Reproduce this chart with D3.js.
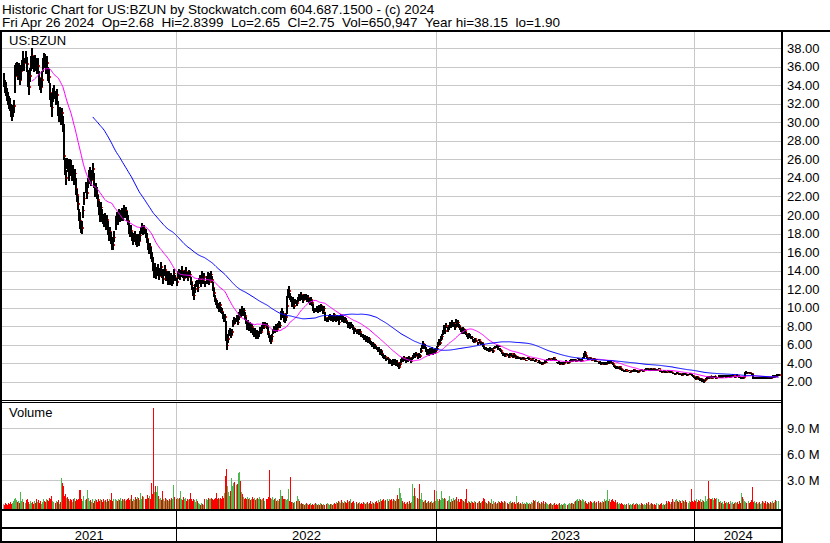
<!DOCTYPE html>
<html><head><meta charset="utf-8">
<script src="https://cdn.jsdelivr.net/npm/d3@7"></script>
<style>html,body{margin:0;padding:0;background:#fff}svg{display:block}text{font-family:"Liberation Sans",Arial,sans-serif;fill:#000}</style>
</head><body><svg id="c" width="830" height="543"></svg>
<script>
const titleLine1 = "Historic Chart for US:BZUN by Stockwatch.com 604.687.1500 - (c) 2024";
const titleLine2 = "Fri Apr 26 2024  Op=2.68  Hi=2.8399  Lo=2.65  Cl=2.75  Vol=650,947  Year hi=38.15  lo=1.90";
const symbol = "US:BZUN";
const yearLabels = ["2021","2022","2023","2024"];
const yearStartIndex = [0,168,419,669];
const priceTicks = [2,4,6,8,10,12,14,16,18,20,22,24,26,28,30,32,34,36,38];
const volumeTicks = [3,6,9];
const maPeriods = [28,87];

const close = [
34.5,34.0,33.5,33.2,32.6,32.2,31.8,31.5,30.8,31.2,
31.8,35.0,35.6,36.0,35.3,35.8,34.6,35.5,36.2,36.8,
36.4,37.0,36.3,34.5,33.8,35.0,36.5,37.2,36.6,36.0,
36.8,36.2,35.8,36.1,34.8,34.2,33.8,34.6,36.3,36.9,
36.5,36.0,36.4,35.4,34.9,33.2,32.4,31.6,32.8,33.3,
32.6,33.0,31.3,30.8,31.2,30.6,31.0,29.8,26.4,25.2,
24.0,25.6,25.3,24.6,25.5,25.0,24.4,24.8,24.0,24.5,
22.8,22.2,21.2,20.0,19.4,18.8,18.6,20.5,21.8,23.0,
22.4,23.5,24.2,24.6,23.8,24.4,25.0,23.4,22.6,23.0,
22.2,21.6,20.6,20.0,20.8,19.9,19.6,19.2,19.8,19.0,
19.5,18.4,17.9,18.2,17.5,17.0,16.8,17.6,19.0,19.8,
19.4,20.2,19.6,20.0,20.4,19.8,20.6,20.2,20.5,19.9,
19.4,18.6,18.0,18.3,17.8,17.2,17.6,17.9,17.4,17.0,
17.5,17.2,17.8,18.3,18.6,18.2,18.5,18.0,17.4,16.8,
16.3,16.6,15.8,15.4,14.6,13.8,14.3,13.5,14.0,14.2,
13.4,13.9,14.4,13.6,13.1,13.8,14.1,13.3,13.6,13.0,
13.5,12.9,13.4,12.6,13.1,13.7,13.2,12.8,13.5,13.9,
13.4,13.8,14.0,13.6,13.2,13.7,13.9,13.5,13.3,13.8,
13.6,12.8,12.4,11.6,11.3,12.0,12.5,12.7,12.2,12.9,
13.1,12.7,13.4,12.9,13.3,12.6,13.0,13.5,12.8,13.2,
13.6,13.0,12.2,11.6,11.0,10.6,10.4,10.2,9.9,10.3,
9.8,9.6,9.2,8.8,9.0,7.0,5.9,6.6,7.2,7.5,
7.0,7.4,8.2,8.7,8.5,8.9,8.4,9.0,9.6,9.3,
9.9,9.4,9.7,9.1,8.5,8.0,8.3,7.8,8.1,7.6,
7.9,7.4,7.1,7.5,7.0,7.3,6.9,7.2,7.6,7.4,
7.8,8.2,7.9,8.3,8.0,7.4,7.0,6.6,6.4,6.9,
7.4,7.8,7.5,7.9,7.7,8.0,8.4,8.1,9.0,9.6,
9.3,8.8,8.6,9.0,10.2,11.4,11.8,11.2,10.9,10.4,
10.8,10.2,10.6,10.5,10.9,11.2,11.0,11.4,11.1,10.8,
11.3,11.0,11.2,10.9,11.1,10.8,10.6,10.9,10.5,9.9,
9.6,9.8,9.7,10.0,9.7,10.1,9.8,10.2,9.9,9.6,
9.9,8.9,8.6,8.8,8.9,9.1,8.8,9.0,8.7,9.2,
8.9,8.6,9.0,8.8,8.4,8.9,9.1,8.7,8.9,8.5,
8.8,8.6,8.4,8.1,8.3,7.9,8.2,8.0,7.8,7.5,
7.6,7.3,7.5,7.2,7.4,7.1,7.0,6.9,6.7,6.8,
6.5,6.7,6.4,6.6,6.3,6.2,6.0,6.1,5.8,5.9,
5.7,5.6,5.4,5.5,5.2,5.3,5.0,4.8,4.6,4.7,
4.4,4.5,4.2,4.3,4.1,3.9,4.2,4.0,4.3,3.9,
4.1,3.8,3.6,3.9,4.2,4.5,4.3,4.6,4.4,4.2,
4.5,4.3,4.6,4.4,4.2,4.5,4.7,4.9,4.8,5.0,
4.7,4.9,4.8,5.3,5.8,6.1,5.7,5.9,5.4,5.1,
5.3,5.0,5.4,5.2,5.5,5.1,5.3,5.2,5.4,5.6,
6.0,6.4,6.2,6.6,6.9,7.3,7.8,7.5,8.0,7.7,
7.9,8.2,8.0,8.4,8.1,8.3,7.9,8.5,8.2,8.4,
8.0,7.8,7.6,7.4,7.7,7.3,7.5,7.2,7.0,6.8,
7.1,6.9,6.7,6.8,6.5,6.3,6.6,6.4,6.2,6.5,
6.3,6.1,6.2,6.0,5.7,5.5,5.6,5.4,5.5,5.3,
5.6,5.4,5.5,5.3,5.6,5.8,5.7,5.9,5.6,5.8,
5.5,5.3,5.1,4.9,5.0,4.8,5.0,4.9,4.7,4.9,
5.0,4.8,4.7,4.9,4.8,4.6,4.7,4.6,4.5,4.6,
4.4,4.5,4.6,4.4,4.5,4.3,4.5,4.6,4.4,4.5,
4.3,4.4,4.5,4.3,4.2,4.3,4.1,4.2,4.0,4.1,
3.9,4.1,4.0,4.2,4.1,4.3,4.4,4.5,4.4,4.3,
4.5,4.4,4.6,4.4,4.3,4.1,4.0,4.1,3.9,4.0,
4.1,3.9,4.0,4.1,4.2,4.0,4.1,4.2,4.3,4.2,
4.4,4.3,4.4,4.2,4.3,4.5,4.3,4.4,4.2,4.3,
4.5,4.9,5.1,4.8,4.6,4.5,4.4,4.6,4.5,4.3,
4.4,4.5,4.3,4.4,4.2,4.0,4.1,3.9,4.0,4.1,
3.9,4.0,3.9,4.0,4.1,4.0,4.2,4.1,4.0,3.9,
3.7,3.6,3.5,3.6,3.4,3.5,3.6,3.4,3.3,3.2,
3.1,3.2,3.3,3.1,3.2,3.0,3.1,3.2,3.1,3.3,
3.2,3.1,3.2,3.0,3.1,3.2,3.3,3.2,3.1,3.2,
3.3,3.4,3.3,3.4,3.2,3.3,3.4,3.3,3.2,3.4,
3.3,3.2,3.3,3.4,3.2,3.1,3.0,3.1,3.2,3.0,
3.1,3.0,3.2,3.1,3.0,3.1,3.0,2.9,2.9,2.8,
2.9,3.0,2.9,2.8,2.9,2.8,2.7,2.9,2.8,2.9,
2.8,2.7,2.8,2.9,2.8,2.7,2.6,2.5,2.4,2.3,
2.5,2.4,2.3,2.2,2.3,2.1,2.2,2.05,2.15,2.3,
2.4,2.5,2.4,2.6,2.5,2.4,2.5,2.6,2.5,2.4,
2.5,2.6,2.5,2.6,2.5,2.6,2.7,2.6,2.5,2.6,
2.7,2.6,2.5,2.6,2.6,2.7,2.6,2.5,2.6,2.7,
2.6,2.5,2.45,2.4,2.5,2.4,2.5,2.9,3.0,2.9,
3.0,2.95,2.9,2.85,2.4,2.35,2.4,2.45,2.35,2.4,
2.45,2.35,2.4,2.4,2.35,2.45,2.4,2.35,2.45,2.4,
2.35,2.45,2.4,2.45,2.6,2.55,2.65,2.6,2.68,2.75];

const highWick = [
0.8,0.6,0.9,0.5,0.7,0.6,0.8,0.5,0.9,0.7,
0.6,1.2,0.8,0.5,0.9,0.6,1.0,0.7,0.5,0.9,
0.6,0.7,0.8,1.2,0.6,0.9,0.7,0.8,0.6,0.9,
0.5,0.8,0.6,0.9,0.7,0.6,0.8,1.0,0.7,0.6,
0.9,0.7,0.8,0.6,0.9,1.1,0.8,0.6,0.9,0.7,
0.8,0.6,1.0,0.7,0.5,0.8,0.6,0.9,3.4,1.0,
0.9,0.6,0.8,0.7,0.5,0.9,0.8,0.6,0.7,0.5,
1.2,0.6,0.8,0.7,0.9,0.6,0.8,0.5,0.7,0.6,
0.9,0.5,0.7,0.6,0.8,0.5,0.6,1.1,0.7,0.5,
0.8,0.6,0.9,0.5,0.6,0.7,0.5,0.6,0.4,0.7,
0.5,0.9,0.6,0.5,0.7,0.6,0.5,0.7,0.9,0.5,
0.7,0.4,0.6,0.5,0.4,0.7,0.5,0.6,0.4,0.5,
0.6,0.8,0.5,0.6,0.4,0.7,0.5,0.4,0.6,0.5,
0.4,0.6,0.5,0.4,0.5,0.6,0.4,0.5,0.7,0.6,
0.5,0.4,0.7,0.6,0.9,0.7,0.5,0.6,0.4,0.5,
0.6,0.4,0.5,0.6,0.5,0.4,0.5,0.6,0.4,0.5,
0.4,0.5,0.3,0.6,0.4,0.5,0.3,0.4,0.5,0.3,
0.4,0.3,0.5,0.4,0.3,0.4,0.5,0.3,0.4,0.3,
0.4,0.5,0.4,0.6,0.3,0.5,0.4,0.3,0.4,0.3,
0.4,0.3,0.5,0.3,0.4,0.3,0.4,0.3,0.4,0.5,
0.3,0.4,0.6,0.5,0.4,0.3,0.4,0.3,0.4,0.3,
0.3,0.4,0.3,0.4,0.3,1.6,0.9,0.6,0.4,0.3,
0.4,0.3,0.5,0.3,0.4,0.3,0.4,0.5,0.3,0.4,
0.3,0.4,0.3,0.4,0.5,0.3,0.4,0.3,0.3,0.4,
0.3,0.4,0.3,0.3,0.4,0.3,0.4,0.3,0.3,0.2,
0.3,0.3,0.4,0.2,0.3,0.5,0.3,0.4,0.3,0.2,
0.3,0.2,0.3,0.3,0.2,0.3,0.2,0.3,0.6,0.4,
0.3,0.4,0.3,0.4,1.0,0.6,0.5,0.4,0.3,0.4,
0.3,0.4,0.3,0.3,0.2,0.3,0.2,0.3,0.3,0.4,
0.2,0.3,0.3,0.2,0.3,0.2,0.3,0.2,0.3,0.5,
0.3,0.2,0.3,0.2,0.3,0.2,0.3,0.2,0.3,0.2,
0.3,0.6,0.3,0.2,0.3,0.2,0.3,0.2,0.3,0.2,
0.2,0.3,0.2,0.3,0.3,0.2,0.2,0.3,0.2,0.3,
0.2,0.3,0.2,0.3,0.2,0.3,0.2,0.2,0.3,0.2,
0.2,0.3,0.2,0.2,0.3,0.2,0.2,0.3,0.2,0.2,
0.2,0.2,0.3,0.2,0.2,0.2,0.3,0.2,0.2,0.2,
0.2,0.2,0.3,0.2,0.2,0.2,0.3,0.2,0.2,0.2,
0.2,0.2,0.2,0.2,0.2,0.3,0.2,0.2,0.2,0.3,
0.2,0.2,0.3,0.2,0.3,0.2,0.2,0.2,0.2,0.3,
0.2,0.2,0.2,0.2,0.3,0.2,0.2,0.2,0.2,0.2,
0.3,0.2,0.2,0.3,0.2,0.3,0.2,0.2,0.3,0.2,
0.2,0.2,0.2,0.2,0.2,0.2,0.2,0.2,0.2,0.3,
0.3,0.25,0.2,0.3,0.25,0.3,0.3,0.25,0.35,0.2,
0.25,0.3,0.2,0.3,0.25,0.2,0.3,0.25,0.2,0.3,
0.2,0.25,0.2,0.15,0.2,0.25,0.15,0.2,0.15,0.2,
0.15,0.2,0.15,0.1,0.15,0.2,0.1,0.15,0.1,0.15,
0.1,0.15,0.1,0.15,0.2,0.1,0.15,0.1,0.1,0.15,
0.1,0.15,0.1,0.1,0.15,0.1,0.15,0.1,0.1,0.15,
0.1,0.1,0.15,0.1,0.1,0.15,0.1,0.1,0.1,0.15,
0.1,0.1,0.1,0.15,0.1,0.1,0.1,0.1,0.1,0.1,
0.1,0.08,0.1,0.12,0.1,0.08,0.1,0.1,0.12,0.1,
0.08,0.1,0.1,0.08,0.1,0.12,0.08,0.1,0.1,0.08,
0.1,0.08,0.1,0.1,0.12,0.1,0.08,0.1,0.1,0.08,
0.1,0.1,0.08,0.1,0.12,0.08,0.1,0.1,0.08,0.1,
0.08,0.1,0.1,0.08,0.1,0.1,0.08,0.1,0.12,0.1,
0.1,0.08,0.1,0.1,0.08,0.1,0.1,0.08,0.1,0.1,
0.15,0.2,0.2,0.15,0.1,0.1,0.08,0.1,0.1,0.08,
0.1,0.08,0.1,0.1,0.08,0.1,0.1,0.08,0.1,0.08,
0.1,0.08,0.1,0.08,0.1,0.1,0.08,0.1,0.08,0.1,
0.1,0.08,0.1,0.08,0.1,0.08,0.08,0.1,0.08,0.08,
0.08,0.06,0.08,0.06,0.08,0.06,0.08,0.06,0.08,0.06,
0.06,0.08,0.06,0.08,0.06,0.08,0.06,0.08,0.06,0.08,
0.08,0.06,0.08,0.06,0.08,0.06,0.08,0.06,0.08,0.06,
0.06,0.08,0.06,0.08,0.06,0.08,0.06,0.08,0.06,0.08,
0.08,0.06,0.08,0.06,0.08,0.06,0.08,0.06,0.06,0.08,
0.06,0.08,0.06,0.06,0.08,0.06,0.08,0.06,0.06,0.08,
0.06,0.08,0.06,0.08,0.06,0.08,0.1,0.1,0.08,0.1,
0.08,0.1,0.08,0.1,0.08,0.1,0.08,0.1,0.08,0.1,
0.08,0.1,0.08,0.06,0.08,0.06,0.08,0.06,0.08,0.06,
0.06,0.08,0.06,0.08,0.06,0.08,0.06,0.08,0.06,0.08,
0.06,0.08,0.06,0.08,0.06,0.08,0.06,0.08,0.06,0.08,
0.06,0.08,0.06,0.08,0.06,0.08,0.06,0.15,0.12,0.1,
0.08,0.1,0.08,0.06,0.4,0.08,0.06,0.08,0.06,0.08,
0.06,0.08,0.06,0.08,0.06,0.08,0.06,0.08,0.06,0.08,
0.06,0.08,0.06,0.08,0.08,0.06,0.08,0.1,0.15,0.09];

const lowWick = [
0.7,0.8,0.6,0.9,0.7,0.8,0.6,0.9,0.7,0.6,
0.8,1.8,0.6,0.9,0.7,0.8,0.6,0.9,0.7,0.6,
0.8,0.6,0.9,0.7,0.8,0.6,0.9,0.7,0.8,0.6,
0.9,0.7,0.6,0.8,0.9,0.7,0.6,0.8,0.9,0.7,
0.6,0.8,0.7,0.9,0.6,0.8,0.7,1.0,0.6,0.8,
0.7,0.9,0.6,0.8,0.7,0.9,0.6,0.8,0.5,0.9,
0.8,0.6,0.7,0.9,0.6,0.8,0.7,0.6,0.8,0.7,
0.6,0.8,0.7,0.6,0.9,0.7,0.6,0.8,0.7,0.6,
0.7,0.6,0.8,0.5,0.7,0.6,0.8,0.5,0.7,0.6,
0.5,0.7,0.6,0.8,0.5,0.7,0.6,0.5,0.7,0.6,
0.5,0.6,0.7,0.5,0.6,0.8,0.6,0.5,0.6,0.7,
0.5,0.6,0.4,0.6,0.5,0.4,0.6,0.5,0.4,0.6,
0.5,0.6,0.4,0.5,0.6,0.4,0.5,0.4,0.6,0.5,
0.4,0.5,0.6,0.4,0.5,0.4,0.6,0.5,0.4,0.6,
0.5,0.4,0.6,0.5,0.7,0.6,0.5,0.4,0.6,0.5,
0.4,0.5,0.6,0.4,0.5,0.4,0.6,0.4,0.5,0.6,
0.4,0.5,0.4,0.3,0.5,0.4,0.3,0.5,0.4,0.3,
0.4,0.5,0.3,0.4,0.3,0.5,0.4,0.3,0.4,0.5,
0.3,0.4,0.5,0.3,0.5,0.4,0.3,0.4,0.5,0.3,
0.4,0.5,0.3,0.4,0.3,0.4,0.5,0.3,0.4,0.3,
0.4,0.3,0.4,0.5,0.4,0.3,0.4,0.3,0.4,0.3,
0.4,0.3,0.4,0.3,0.4,0.6,0.45,0.4,0.3,0.4,
0.3,0.4,0.3,0.4,0.3,0.4,0.3,0.3,0.4,0.3,
0.4,0.3,0.3,0.4,0.3,0.4,0.3,0.3,0.4,0.3,
0.3,0.4,0.3,0.3,0.4,0.3,0.3,0.4,0.3,0.3,
0.3,0.3,0.2,0.3,0.3,0.4,0.3,0.3,0.3,0.4,
0.3,0.3,0.2,0.3,0.3,0.2,0.3,0.3,0.3,0.4,
0.4,0.3,0.3,0.4,0.9,0.4,0.3,0.4,0.3,0.3,
0.3,0.3,0.2,0.3,0.3,0.2,0.3,0.2,0.3,0.3,
0.3,0.2,0.3,0.3,0.2,0.3,0.3,0.2,0.3,0.3,
0.2,0.3,0.2,0.3,0.3,0.2,0.3,0.2,0.3,0.3,
0.3,0.3,0.2,0.3,0.2,0.3,0.2,0.3,0.2,0.3,
0.3,0.2,0.3,0.2,0.3,0.2,0.3,0.2,0.3,0.2,
0.2,0.3,0.2,0.3,0.2,0.2,0.3,0.2,0.2,0.3,
0.2,0.2,0.3,0.2,0.2,0.3,0.2,0.2,0.2,0.3,
0.2,0.2,0.2,0.3,0.2,0.2,0.2,0.2,0.3,0.2,
0.2,0.2,0.2,0.2,0.3,0.2,0.2,0.2,0.2,0.2,
0.2,0.2,0.3,0.2,0.2,0.2,0.2,0.2,0.2,0.2,
0.2,0.2,0.25,0.2,0.2,0.2,0.2,0.2,0.2,0.2,
0.2,0.2,0.2,0.2,0.2,0.2,0.2,0.2,0.2,0.2,
0.2,0.2,0.2,0.2,0.3,0.2,0.2,0.2,0.2,0.2,
0.2,0.2,0.2,0.2,0.2,0.2,0.2,0.2,0.2,0.2,
0.25,0.3,0.25,0.2,0.3,0.25,0.35,0.3,0.25,0.3,
0.3,0.2,0.25,0.3,0.2,0.25,0.3,0.2,0.25,0.3,
0.25,0.2,0.25,0.2,0.15,0.2,0.25,0.15,0.2,0.15,
0.2,0.15,0.1,0.15,0.2,0.15,0.1,0.15,0.2,0.1,
0.15,0.1,0.15,0.2,0.15,0.1,0.15,0.1,0.15,0.1,
0.15,0.1,0.1,0.15,0.1,0.15,0.1,0.1,0.15,0.1,
0.15,0.1,0.1,0.15,0.1,0.1,0.15,0.1,0.1,0.1,
0.1,0.15,0.1,0.1,0.1,0.15,0.1,0.1,0.1,0.12,
0.08,0.1,0.12,0.1,0.08,0.1,0.1,0.12,0.1,0.08,
0.1,0.12,0.08,0.1,0.1,0.08,0.1,0.12,0.1,0.1,
0.12,0.1,0.08,0.1,0.1,0.08,0.1,0.12,0.08,0.1,
0.1,0.08,0.1,0.12,0.1,0.1,0.12,0.08,0.1,0.1,
0.1,0.12,0.08,0.1,0.1,0.12,0.1,0.08,0.1,0.1,
0.08,0.1,0.1,0.12,0.1,0.08,0.1,0.1,0.12,0.1,
0.1,0.4,0.2,0.15,0.1,0.12,0.1,0.08,0.1,0.1,
0.08,0.1,0.12,0.08,0.1,0.12,0.1,0.08,0.1,0.1,
0.08,0.1,0.1,0.08,0.1,0.08,0.1,0.1,0.08,0.1,
0.1,0.08,0.1,0.1,0.08,0.1,0.08,0.1,0.1,0.08,
0.06,0.08,0.06,0.08,0.06,0.08,0.06,0.08,0.06,0.08,
0.08,0.06,0.08,0.06,0.08,0.06,0.08,0.06,0.08,0.06,
0.06,0.08,0.06,0.08,0.06,0.08,0.06,0.08,0.06,0.08,
0.08,0.06,0.08,0.06,0.08,0.06,0.08,0.06,0.08,0.06,
0.06,0.08,0.06,0.08,0.06,0.08,0.06,0.08,0.08,0.06,
0.08,0.06,0.08,0.08,0.06,0.08,0.06,0.08,0.08,0.06,
0.08,0.06,0.08,0.06,0.08,0.06,0.1,0.1,0.1,0.08,
0.1,0.08,0.1,0.1,0.08,0.1,0.1,0.15,0.1,0.08,
0.1,0.08,0.1,0.08,0.06,0.08,0.06,0.08,0.06,0.08,
0.08,0.06,0.08,0.06,0.08,0.06,0.08,0.06,0.08,0.06,
0.08,0.06,0.08,0.06,0.08,0.06,0.08,0.06,0.08,0.06,
0.08,0.06,0.08,0.06,0.08,0.06,0.08,0.35,0.1,0.12,
0.1,0.12,0.1,0.1,0.15,0.08,0.06,0.08,0.06,0.08,
0.08,0.06,0.08,0.06,0.08,0.06,0.08,0.06,0.08,0.06,
0.08,0.06,0.08,0.06,0.08,0.1,0.08,0.1,0.08,0.1];

// volume in millions of shares
const volume = [
0.3,0.2,0.4,0.3,0.2,0.4,0.3,0.5,0.3,0.4,
0.6,0.8,1.0,0.7,0.5,0.6,0.4,1.7,0.6,0.9,
0.5,0.4,0.7,0.8,0.5,0.3,0.6,0.4,0.5,0.3,
0.6,0.4,0.8,0.5,0.7,0.4,0.6,0.3,0.5,0.8,
0.6,0.5,0.9,0.7,0.6,1.0,0.9,1.2,0.6,0.5,
0.4,0.6,0.5,0.7,0.3,0.5,3.3,2.7,2.3,1.2,
1.4,1.0,1.1,0.8,0.6,0.9,0.7,0.5,0.8,1.0,
0.6,0.9,0.7,0.8,1.9,1.9,0.8,0.6,1.2,0.7,
0.9,1.9,1.0,0.6,0.7,0.5,0.8,0.4,0.6,0.9,
0.7,0.5,0.8,0.6,0.9,0.7,0.5,0.8,0.6,0.7,
0.5,0.9,0.6,0.8,0.7,1.5,0.6,0.8,0.9,0.7,
0.6,0.9,0.7,1.0,0.6,0.8,0.7,0.9,0.6,0.7,
0.8,1.0,0.7,0.9,1.3,0.6,0.8,0.7,1.1,0.9,
1.1,1.0,0.7,1.5,0.9,1.2,1.1,0.8,0.9,1.3,
1.0,1.2,0.9,2.7,1.4,11.3,1.7,2.4,1.6,2.4,
1.2,0.8,1.0,0.7,1.8,0.9,0.6,1.0,0.8,0.7,
0.6,0.9,0.7,1.0,0.8,2.5,1.1,0.9,1.0,0.8,
1.0,1.8,0.9,0.7,1.1,0.8,1.0,0.6,0.9,0.7,
0.8,1.5,0.9,0.6,0.8,0.7,0.5,0.9,0.6,0.4,
0.3,0.2,0.4,0.3,0.2,0.8,0.9,0.7,1.0,0.8,
0.9,1.0,0.8,0.7,0.9,1.0,1.5,0.8,1.0,0.9,
1.0,0.8,1.2,1.0,1.5,3.5,4.3,2.3,1.6,1.2,
1.8,3.3,2.4,2.7,2.8,2.5,2.6,3.8,4.0,2.9,
1.7,1.4,1.1,0.9,1.0,0.8,1.1,0.9,1.0,0.7,
0.9,1.1,0.8,1.0,0.7,0.9,1.0,0.8,1.1,0.9,
0.7,0.9,1.0,0.6,0.8,0.9,1.1,4.2,1.0,0.9,
1.1,0.7,0.9,1.0,0.6,0.7,0.6,0.8,1.9,1.2,
1.2,0.9,0.8,0.9,0.7,0.9,2.0,0.6,3.4,0.5,
0.5,0.4,0.5,0.6,1.2,0.8,0.6,0.3,0.4,0.3,
0.3,0.2,0.3,0.4,0.3,0.2,0.3,0.4,0.2,0.3,
0.2,0.3,0.4,0.3,0.2,0.3,0.2,0.4,0.3,0.2,
0.3,0.2,0.3,0.4,0.3,0.2,0.3,0.3,0.2,0.3,
0.4,0.3,0.5,0.4,0.6,0.5,0.4,0.7,0.5,0.4,
0.6,0.5,0.4,0.7,0.5,0.6,0.8,0.4,0.5,0.6,
0.4,0.5,0.3,0.4,0.5,0.3,0.4,0.3,0.5,0.4,
0.3,0.4,0.5,0.3,0.4,0.6,0.3,0.5,0.4,0.3,
0.5,0.6,0.4,0.7,0.5,0.8,0.6,0.7,0.9,0.6,
0.7,0.9,0.6,0.8,0.7,0.9,0.6,0.8,0.7,0.6,
0.8,1.3,0.9,2.1,1.5,1.0,0.6,0.4,0.5,0.3,
0.4,0.5,0.3,0.6,0.4,0.5,2.6,1.2,2.1,1.2,
1.0,0.9,2.6,0.8,1.5,0.7,0.5,0.6,0.7,0.4,
0.5,0.6,0.4,0.5,0.6,0.4,0.5,1.9,0.6,1.8,
0.9,0.6,0.8,0.7,1.8,1.0,0.9,1.0,0.8,0.6,
0.7,1.2,0.5,0.8,0.6,1.0,0.7,0.9,1.1,0.6,
0.8,0.5,0.9,0.9,0.7,0.6,0.5,0.9,2.0,0.4,
0.6,0.5,0.4,0.6,0.5,0.4,0.6,0.5,0.4,0.5,
0.6,0.4,0.5,0.6,1.0,0.8,0.5,0.4,0.3,0.6,
0.5,0.4,0.8,0.3,0.6,0.4,0.5,0.3,0.4,0.6,
0.5,0.4,0.6,0.5,0.4,0.6,0.5,0.4,0.3,0.5,
0.6,0.4,0.5,0.4,0.5,0.3,1.2,0.4,0.5,0.3,
0.4,0.3,0.5,0.3,0.4,0.3,0.5,0.4,0.3,0.4,
0.3,0.5,0.4,0.7,0.6,0.7,0.5,0.6,0.4,0.3,
0.5,0.4,0.6,0.3,0.5,0.4,0.3,0.2,0.3,0.4,
0.3,0.2,0.3,0.4,0.2,0.3,0.2,0.3,0.4,0.2,
0.3,0.2,0.3,0.4,0.3,0.2,0.3,0.4,0.3,0.4,
0.4,0.3,0.5,0.6,0.7,0.8,0.6,0.9,0.7,0.6,
0.8,0.7,0.5,0.6,0.4,0.3,0.5,0.4,0.6,0.5,
0.4,0.5,0.6,0.4,0.5,0.6,0.4,0.5,0.4,0.6,
0.5,0.9,0.6,0.7,1.9,0.6,0.9,0.5,0.7,0.8,
0.6,0.5,0.7,0.4,0.5,0.3,0.4,0.3,0.4,0.3,
0.2,0.3,0.2,0.3,0.4,0.2,0.3,0.2,0.3,0.4,
0.2,0.3,0.4,0.3,0.2,0.3,0.2,0.4,0.3,0.2,
0.3,0.2,0.4,0.3,0.5,0.2,0.3,0.4,0.3,0.2,
0.3,0.2,0.4,0.3,0.2,0.3,0.4,0.2,0.3,0.2,
0.3,0.6,0.4,0.6,0.5,0.3,0.5,0.8,0.6,0.5,
0.7,0.8,0.6,0.5,0.7,0.6,0.4,0.7,0.6,0.5,
0.7,0.5,0.4,0.6,0.5,2.0,0.6,0.5,0.7,0.6,
0.8,0.5,0.7,0.6,0.9,0.5,0.7,0.6,0.5,1.2,
0.6,0.8,2.9,1.0,0.9,0.8,1.0,0.7,1.0,0.9,
1.0,0.8,0.5,0.6,0.4,0.5,0.3,0.6,0.4,0.5,
0.4,0.5,0.3,0.6,0.4,0.5,0.3,0.4,0.5,0.4,
0.5,0.3,0.6,0.4,1.5,1.1,0.9,0.6,0.5,0.4,
0.6,0.4,0.5,0.7,2.2,0.5,0.6,0.4,0.5,0.3,
0.4,0.5,0.3,0.4,0.6,0.5,0.4,0.6,0.3,0.5,
0.4,0.3,0.5,0.4,0.6,0.4,0.5,0.7,0.6,0.65];

const N = d3.min([close.length, highWick.length, lowWick.length, volume.length]);
const svg = d3.select("#c");
const W = 830, H = 543;
const plotL = 2, plotR = 781;
const priceTop = 32, priceBot = 400;
const volTop = 403, volBase = 509;

svg.append("rect").attr("width", W).attr("height", H).attr("fill", "#fff");

const x = d3.scaleLinear().domain([0, N - 1]).range([2.8, 777.5]);
const y = d3.scaleLinear().domain([2, 38]).range([381.7, 48.3]);
const yv = d3.scaleLinear().domain([0, 12]).range([506.3, 402.3]);

const grid = svg.append("g").attr("stroke", "#c8c8c8").attr("stroke-width", 1).attr("shape-rendering", "crispEdges");
priceTicks.forEach(t => {
  const yy = Math.round(y(t)) + 0.5;
  grid.append("line").attr("x1", plotL).attr("x2", plotR).attr("y1", yy).attr("y2", yy);
});
volumeTicks.forEach(t => {
  const yy = Math.round(yv(t)) + 0.5;
  grid.append("line").attr("x1", plotL).attr("x2", plotR).attr("y1", yy).attr("y2", yy);
});
const boundaries = yearStartIndex.slice(1).map(k => Math.round((x(k - 1) + x(k)) / 2) + 0.5);
boundaries.forEach(bx => {
  grid.append("line").attr("x1", bx).attr("x2", bx).attr("y1", priceTop).attr("y2", priceBot);
  grid.append("line").attr("x1", bx).attr("x2", bx).attr("y1", volTop).attr("y2", volBase);
});

// volume bars
const vg = svg.append("g").attr("shape-rendering", "crispEdges");
for (let i = 0; i < N; i++) {
  const prev = i > 0 ? close[i - 1] : close[i];
  const col = close[i] > prev ? "#4db84d" : (close[i] < prev ? "#ff0000" : "#aaaaaa");
  const top = yv(volume[i]);
  vg.append("rect").attr("x", Math.round(x(i))).attr("y", top).attr("width", 1.2)
    .attr("height", Math.max(1, volBase - top)).attr("fill", col);
}

// price bars: black high-low bar, red close tick
const pg = svg.append("g").attr("shape-rendering", "crispEdges");
for (let i = 0; i < N; i++) {
  const hi = close[i] + highWick[i], lo = close[i] - lowWick[i];
  const xi = Math.round(x(i));
  const yt = y(hi), yb = y(lo);
  pg.append("rect").attr("x", xi).attr("y", yt).attr("width", 2)
    .attr("height", Math.max(1.5, yb - yt)).attr("fill", "#000");
  pg.append("rect").attr("x", xi + 2).attr("y", y(close[i]) - 0.7).attr("width", 1.2).attr("height", 1.6).attr("fill", "#ff0000");
}

// moving averages
function sma(p) {
  const out = [];
  for (let i = p - 1; i < N; i++) out.push([i, d3.mean(close.slice(i - p + 1, i + 1))]);
  return out;
}
const maColors = ["#ff00ff", "#0000ff"];
const line = d3.line().x(d => x(d[0]) + 1).y(d => y(d[1]));
maPeriods.forEach((p, k) => {
  svg.append("path").attr("d", line(sma(p))).attr("fill", "none")
    .attr("stroke", maColors[k]).attr("stroke-width", 1);
});

// frame lines
const fr = svg.append("g").attr("stroke", "#000").attr("shape-rendering", "crispEdges");
fr.append("line").attr("x1", 0).attr("x2", W).attr("y1", 30.5).attr("y2", 30.5).attr("stroke-width", 2);
fr.append("line").attr("x1", 0).attr("x2", plotR + 1).attr("y1", 400.5).attr("y2", 400.5);
fr.append("line").attr("x1", 0).attr("x2", plotR + 1).attr("y1", 402.5).attr("y2", 402.5);
fr.append("line").attr("x1", 0).attr("x2", plotR + 1).attr("y1", 510).attr("y2", 510).attr("stroke-width", 2);
fr.append("line").attr("x1", 0).attr("x2", plotR + 1).attr("y1", 527.5).attr("y2", 527.5).attr("stroke-width", 2);
fr.append("line").attr("x1", 0).attr("x2", plotR + 1).attr("y1", 541.5).attr("y2", 541.5).attr("stroke-width", 2);
fr.append("line").attr("x1", 1).attr("x2", 1).attr("y1", 30).attr("y2", 543).attr("stroke-width", 2);
fr.append("line").attr("x1", 782).attr("x2", 782).attr("y1", 30).attr("y2", 543).attr("stroke-width", 2);
boundaries.forEach(bx => {
  fr.append("line").attr("x1", bx).attr("x2", bx).attr("y1", 510).attr("y2", 542);
});

// texts
const txt = (s, tx, ty, size, anchor) => svg.append("text").attr("x", tx).attr("y", ty)
  .attr("font-size", size).attr("text-anchor", anchor || "start").style("white-space", "pre").text(s);
txt(titleLine1, 2, 13.5, 13.5);
txt(titleLine2, 2, 26.5, 13.5);
txt(symbol, 9, 45, 13);
txt("Volume", 9, 417, 13);
priceTicks.forEach(t => txt(d3.format(".2f")(t), 787, y(t) + 4.5, 13));
volumeTicks.forEach(t => txt(d3.format(".1f")(t) + " M", 787, yv(t) + 4.5, 13));
const edges = [plotL].concat(boundaries).concat([782]);
yearLabels.forEach((lab, k) => txt(lab, (edges[k] + edges[k + 1]) / 2, 539.5, 13, "middle"));
</script></body></html>
